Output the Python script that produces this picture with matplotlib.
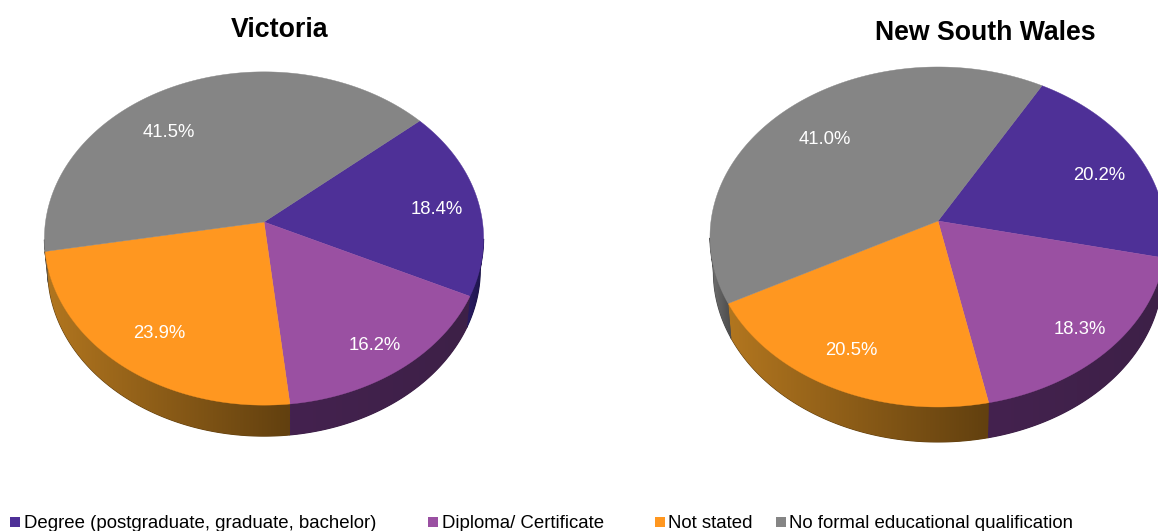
import numpy as np
import matplotlib
matplotlib.use("Agg")
import matplotlib.pyplot as plt
from matplotlib.patches import Polygon, Rectangle
from matplotlib.colors import to_rgb

categories = ["Degree (postgraduate, graduate, bachelor)", "Diploma/ Certificate",
              "Not stated", "No formal educational qualification"]
victoria = [18.4, 16.2, 23.9, 41.5]
nsw = [20.2, 18.3, 20.5, 41.0]
colors = ["#4E3097", "#9A50A2", "#FF9720", "#858585"]
side_left = ["#2A1C63", "#44224F", "#B2761F", "#727272"]
side_right = ["#1B1448", "#3D2047", "#62400F", "#4A4A4A"]

plt.rcParams["font.family"] = ["Liberation Sans", "DejaVu Sans"]
fig = plt.figure(figsize=(11.58, 5.31), dpi=100)
ax = fig.add_axes([0, 0, 1, 1])
ax.set_xlim(0, 1158)
ax.set_ylim(531, 0)
ax.axis("off")


def project(theta, cx, cy, rx, ry, k):
    x, y = np.cos(theta), np.sin(theta)
    w = 1 + k * y
    return cx + rx * x / w, cy - ry * y / w


def draw_pie(values, start, cx, cy, rx, ry, k, depth, label_xy):
    bounds = np.radians(start - np.cumsum([0] + values) * 3.6)
    # side wall: only the part of the rim below its widest point faces the viewer
    for i in range(4):
        ts = np.linspace(bounds[i], bounds[i + 1], 300)
        ts = ts[np.sin(ts) < -k]
        if len(ts) < 2:
            continue
        xa, ya = project(ts, cx, cy, rx, ry, k)
        xb, yb = project(ts, cx, cy, rx * 0.985, ry, k)
        pts = np.r_[np.c_[xa, ya], np.c_[xb, yb + depth][::-1]]
        # flat underlay closes the seams left by the hard-edged image clip
        ax.add_patch(Polygon(pts, closed=True, fc=side_right[i], ec=side_right[i],
                             lw=0.8, zorder=1))
        poly = Polygon(pts, closed=True, fc="none", ec="none")
        ax.add_patch(poly)
        x0, x1 = pts[:, 0].min(), pts[:, 0].max()
        y0, y1 = pts[:, 1].min(), pts[:, 1].max()
        t = np.linspace(0, 1, 128)[None, :, None]
        grad = np.array(to_rgb(side_left[i]))[None, None, :] * (1 - t) + \
            np.array(to_rgb(side_right[i]))[None, None, :] * t
        im = ax.imshow(grad, extent=(x0, x1, y1, y0), aspect="auto",
                       interpolation="bilinear", zorder=1.5)
        im.set_clip_path(poly)
    # top face
    for i in range(4):
        ts = np.linspace(bounds[i], bounds[i + 1], 200)
        xs, ys = project(ts, cx, cy, rx, ry, k)
        ax.add_patch(Polygon(np.r_[[(cx, cy)], np.c_[xs, ys]], closed=True,
                             fc=colors[i], ec=colors[i], lw=0.3, zorder=2))
    for v, (lx, ly) in zip(values, label_xy):
        ax.text(lx, ly, f"{v:.1f}%", color="white", fontsize=13.3, ha="center",
                va="baseline", zorder=3)


draw_pie(victoria, 40.7, 264, 222, 218.5, 165, 0.099, 31,
         [(436.7, 214), (375, 350.5), (159.5, 338), (169, 137)])
draw_pie(nsw, 60.3, 938, 221, 227, 168.5, 0.094, 35,
         [(1099, 180), (1079.5, 334), (851.5, 355), (824.5, 144)])
ax.set_xlim(0, 1158)
ax.set_ylim(531, 0)

ax.text(279.7, 36.7, "Victoria", fontsize=19.3, fontweight="bold", ha="center", va="baseline")
ax.text(985, 40, "New South Wales", fontsize=19.2, fontweight="bold", ha="center", va="baseline")

swatch_x = [10, 428, 655, 776]
text_x = [24, 442, 668.5, 789]
for name, col, sx, tx in zip(categories, colors, swatch_x, text_x):
    ax.add_patch(Rectangle((sx, 517), 10, 10, fc=col, ec="none"))
    ax.text(tx, 528, name, fontsize=13.4, ha="left", va="baseline", color="black")

fig.savefig("out.png", dpi=100)
